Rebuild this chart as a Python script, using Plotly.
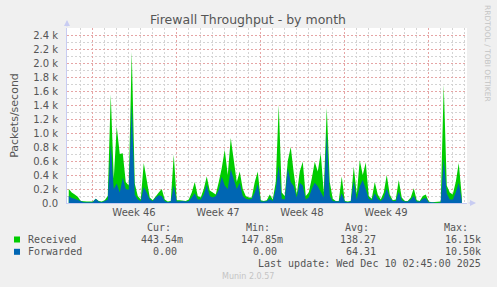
import plotly.graph_objects as go
import pandas as pd

# ---- data (packets/second, 6-hour samples starting 2025-11-08 00:00) ----
received = [200, 150, 120, 90, 30, 20, 20, 20, 20, 60, 30, 20, 40, 100,
            1550, 350, 1090, 700, 710, 300, 250, 2160, 280, 100, 50, 570,
            300, 80, 40, 100, 150, 200, 50, 20, 30, 690, 40, 40, 40, 30,
            50, 150, 300, 100, 80, 200, 380, 180, 150, 120, 300, 500, 760,
            400, 930, 600, 300, 450, 200, 100, 80, 80, 300, 450, 40, 30,
            40, 120, 50, 300, 1400, 150, 100, 600, 800, 430, 120, 450, 590,
            100, 150, 350, 590, 450, 710, 150, 1360, 300, 60, 30, 30, 380,
            30, 20, 30, 520, 120, 610, 400, 580, 100, 60, 300, 120, 50, 150,
            400, 120, 40, 50, 330, 80, 30, 30, 80, 210, 40, 30, 100, 120,
            20, 10, 10, 10, 20, 1690, 250, 150, 120, 300, 570, 100]
forwarded = [100, 70, 60, 40, 20, 10, 10, 10, 10, 60, 20, 10, 30, 50,
             840, 200, 280, 150, 360, 200, 190, 1410, 120, 50, 30, 230,
             150, 50, 30, 80, 110, 100, 30, 10, 20, 250, 20, 30, 30, 20,
             30, 80, 140, 50, 50, 120, 260, 100, 80, 100, 190, 380, 250,
             200, 490, 340, 200, 290, 100, 60, 50, 60, 150, 270, 20, 20,
             30, 60, 30, 200, 540, 60, 50, 500, 300, 240, 80, 290, 250,
             50, 80, 200, 290, 240, 150, 80, 1000, 100, 30, 20, 20, 140,
             20, 10, 20, 310, 50, 240, 330, 200, 60, 40, 140, 60, 30, 80,
             210, 80, 30, 30, 160, 40, 20, 20, 50, 100, 20, 20, 60, 70,
             10, 10, 0, 0, 10, 630, 140, 50, 50, 150, 290, 40]
times = pd.date_range("2025-11-08 01:30", periods=len(received), freq="6h")

y_ticks = [0, 200, 400, 600, 800, 1000, 1200, 1400, 1600, 1800, 2000, 2200, 2400]
y_labels = ["0.0", "0.2 k", "0.4 k", "0.6 k", "0.8 k", "1.0 k", "1.2 k",
            "1.4 k", "1.6 k", "1.8 k", "2.0 k", "2.2 k", "2.4 k"]
legend_rows = [
    ("Received", "#00CC00", "443.54m", "147.85m", "138.27", "16.15k"),
    ("Forwarded", "#0066B3", "0.00 ", "0.00 ", "64.31", "10.50k"),
]

# ---- layout geometry (pixels) ----
W, H = 497, 287
L, R, T, B = 67, 467, 28, 203


def px(x):
    return (x - L) / (R - L)


def py(y):
    return (B - y) / (B - T)


fig = go.Figure()
fig.add_trace(go.Scatter(x=times, y=received, mode="lines", line_shape="linear",
                         line=dict(width=0, color="#00CC00"), fill="tozeroy",
                         fillcolor="#00CC00", hoverinfo="skip"))
fig.add_trace(go.Scatter(x=times, y=forwarded, mode="lines", line_shape="linear",
                         line=dict(width=0, color="#0066B3"), fill="tozeroy",
                         fillcolor="#0066B3", hoverinfo="skip"))

GRID_MINOR = "#D4D4D4"
GRID_MAJOR = "#E6A5A5"
AXIS = "#C8CCF2"
TXT = "#555555"

fig.update_layout(
    width=W, height=H,
    margin=dict(l=L, r=W - R, t=T, b=H - B),
    paper_bgcolor="#F0F0F0", plot_bgcolor="#FFFFFF",
    showlegend=False,
    font=dict(family="DejaVu Sans", size=10, color=TXT),
    title=dict(text="Firewall Throughput - by month", x=px(248), xref="paper",
               xanchor="center", y=1 - 20 / H, yanchor="middle",
               font=dict(size=12.5, color="#555555")),
    xaxis=dict(
        type="date",
        range=["2025-11-07 22:00", "2025-12-11 06:00"],
        tick0="2025-11-10", dtick=7 * 86400000,
        ticklabelmode="period", tickformat="Week %V",
        showgrid=True, gridcolor=GRID_MAJOR, griddash="2px,2px", gridwidth=1,
        minor=dict(dtick=86400000, tick0="2025-11-10", showgrid=True,
                   gridcolor=GRID_MINOR, griddash="2px,2px", gridwidth=1),
        showline=True, linecolor=AXIS, linewidth=1,
        zeroline=False, ticks="", tickfont=dict(size=10, color=TXT),
        fixedrange=True,
    ),
    yaxis=dict(
        range=[0, 2500], tickvals=y_ticks, ticktext=y_labels,
        showgrid=True, gridcolor=GRID_MAJOR, griddash="2px,2px", gridwidth=1,
        minor=dict(dtick=100, tick0=0, showgrid=True, gridcolor=GRID_MINOR,
                   griddash="2px,2px", gridwidth=1),
        showline=True, linecolor=AXIS, linewidth=1, zeroline=False,
        ticks="", ticklabelstandoff=6, tickfont=dict(size=10, color=TXT),
        title=dict(text="Packets/second", font=dict(size=11, color=TXT),
                   standoff=12),
        fixedrange=True,
    ),
)

ann = []
# axis arrows
ann.append(dict(x=px(67), y=py(20), xref="paper", yref="paper", ax=0, ay=8,
                showarrow=True, arrowhead=2, arrowsize=1.2, arrowwidth=1,
                arrowcolor=AXIS, text=""))
ann.append(dict(x=px(476), y=py(203), xref="paper", yref="paper", ax=-9, ay=0,
                showarrow=True, arrowhead=2, arrowsize=1.2, arrowwidth=1,
                arrowcolor=AXIS, text=""))

mono = dict(family="DejaVu Sans Mono", size=10, color=TXT)
for label, cx in (("Cur:", 173), ("Min:", 272), ("Avg:", 371), ("Max:", 470)):
    ann.append(dict(x=px(cx), y=py(227), xref="paper", yref="paper", text=label,
                    showarrow=False, xanchor="right", yanchor="middle", font=mono))
for row, (name, col, cur, mn, avg, mx) in enumerate(legend_rows):
    yy = 239.5 + row * 12.3
    fig.add_shape(type="rect", xref="paper", yref="paper",
                  x0=px(14), x1=px(20), y0=py(yy - 3), y1=py(yy + 3),
                  fillcolor=col, line=dict(width=0))
    ann.append(dict(x=px(26), y=py(yy), xref="paper", yref="paper", text=name,
                    showarrow=False, xanchor="left", yanchor="middle", font=mono))
    for val, rx in ((cur, 185), (mn, 285), (avg, 378), (mx, 483)):
        ann.append(dict(x=px(rx), y=py(yy), xref="paper", yref="paper",
                        text=val.replace(" ", "&nbsp;"), showarrow=False,
                        xanchor="right", yanchor="middle", font=mono))
ann.append(dict(x=px(483), y=py(263.5), xref="paper", yref="paper",
                text="Last update: Wed Dec 10 02:45:00 2025", showarrow=False,
                xanchor="right", yanchor="middle", font=mono))
ann.append(dict(x=px(248), y=py(276), xref="paper", yref="paper",
                text="Munin 2.0.57", showarrow=False, xanchor="center",
                yanchor="middle", font=dict(family="DejaVu Sans", size=8,
                                            color="#C4C4C4")))
ann.append(dict(x=px(488), y=py(53), xref="paper", yref="paper",
                text="RRDTOOL / TOBI OETIKER", textangle=90, showarrow=False,
                xanchor="center", yanchor="middle",
                font=dict(family="DejaVu Sans", size=7.5, color="#C4C4C4")))
fig.update_layout(annotations=ann)

fig.write_html("out.html")
